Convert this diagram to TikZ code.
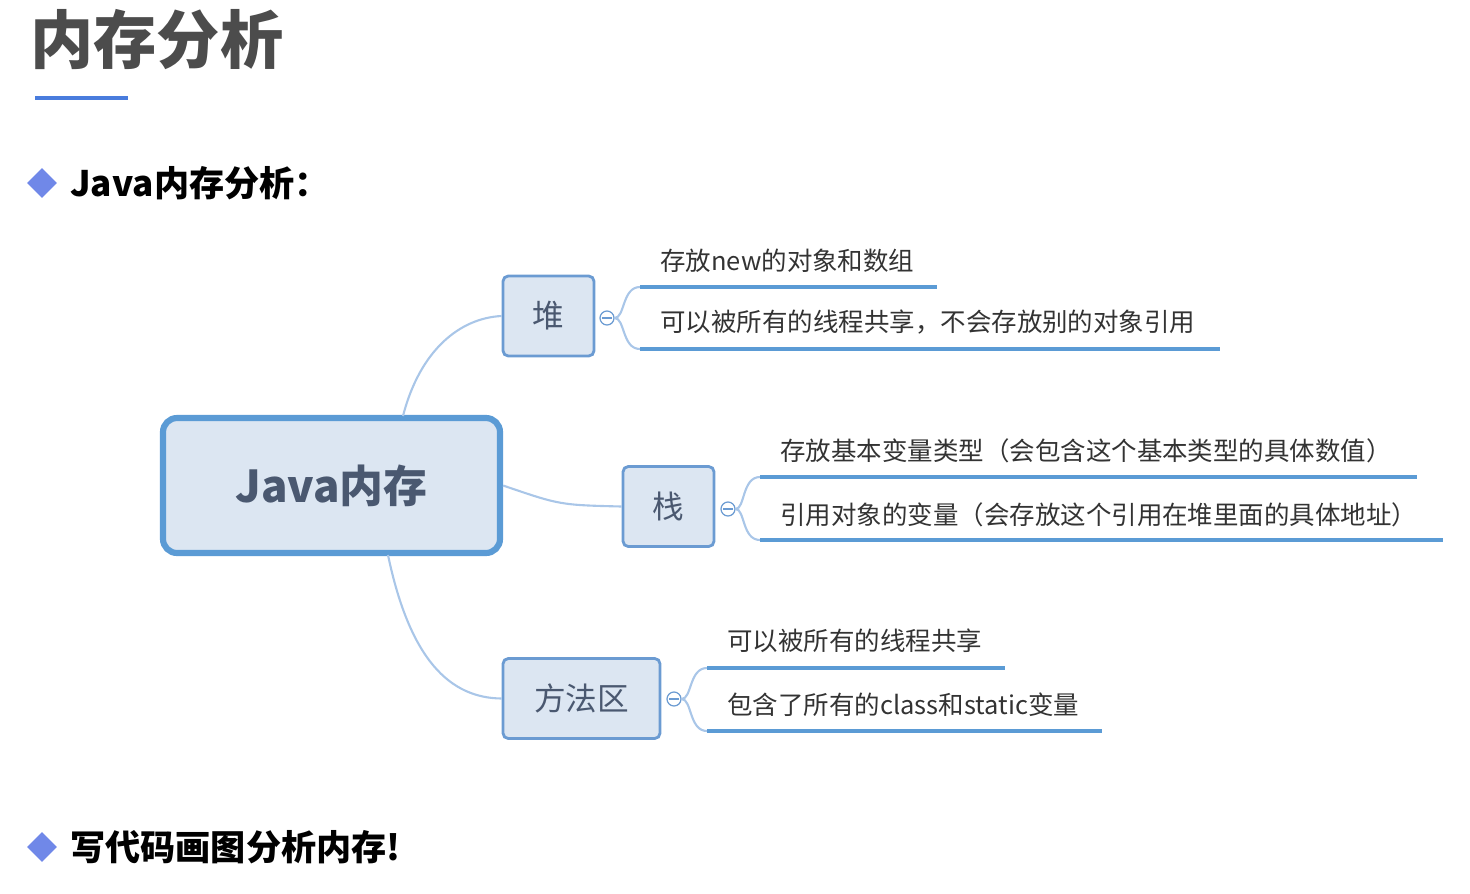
\documentclass[tikz,border=0pt]{standalone}
\usepackage{fontspec}
\setmainfont{Noto Sans CJK SC}
\usetikzlibrary{shapes.geometric}
\definecolor{nb}{HTML}{DCE6F2}
\definecolor{bd}{HTML}{6B9BD2}
\definecolor{cn}{HTML}{A9C6E8}
\definecolor{ul}{HTML}{5B9BD5}
\definecolor{dm}{HTML}{7088E8}
\definecolor{ct}{HTML}{4A5870}
\tikzset{
 sub/.style={draw=bd,line width=1.6pt,fill=nb,rounded corners=3pt,minimum height=80*0.02cm,inner sep=0pt,font=\fontsize{18}{18}\selectfont,text=ct},
 conn/.style={draw=cn,line width=1.2pt},
 leaf/.style={anchor=west,font=\fontsize{14.5}{14.5}\selectfont,text=black!80,inner sep=0pt},
 uline/.style={draw=ul,line width=2pt},
 mc/.style={circle,draw=bd,line width=0.7pt,minimum size=14*0.02cm,inner sep=0pt,fill=white},
 dia/.style={diamond,fill=dm,minimum size=30*0.02cm,inner sep=0pt},
 head/.style={anchor=west,font=\bfseries\fontsize{20}{20}\selectfont,inner sep=0pt}
}
\begin{document}
\begin{tikzpicture}[x=0.02cm,y=-0.02cm]
\useasboundingbox (0,0) rectangle (1470,893);
\node[anchor=west,font=\bfseries\fontsize{36}{36}\selectfont,text=black!70,inner sep=0pt] (title) at (30,40) {内存分析};
\draw[draw=ul!80!blue,line width=2pt] (35,98) -- (128,98);
\node[dia] (d1) at (42,183) {};
\node[head] (h1) at (70,183) {Java内存分析：};
\node[dia] (d2) at (42,847) {};
\node[head] (h2) at (70,847) {写代码画图分析内存!};
\node[draw=ul,line width=3.5pt,fill=nb,rounded corners=8pt,minimum width=337*0.02cm,minimum height=135*0.02cm,font=\bfseries\fontsize{25}{25}\selectfont,text=ct] (c) at (331.5,485.5) {Java内存};
\node[sub,minimum width=91*0.02cm] (h) at (548.5,316) {堆};
\node[sub,minimum width=91*0.02cm] (s) at (668.5,506.5) {栈};
\node[sub,minimum width=157*0.02cm] (m) at (581.5,698.5) {方法区};
\coordinate (ct) at (403,416);
\coordinate (cb) at (388,555);
\draw[conn] (ct) .. controls (420,350) and (460,318) .. (h.west);
\draw[conn] (c.east) .. controls (560,505) .. (s.west);
\draw[conn] (cb) .. controls (410,660) and (450,698) .. (m.west);
% heap
\node[mc] (hc) at (607,318) {}; \draw[bd,line width=0.7pt] (602,318)--(612,318);
\coordinate (ha) at (640,287); \coordinate (hb) at (640,349);
\draw[conn] (hc.east) .. controls (625,318) and (622,287) .. (ha);
\draw[conn] (hc.east) .. controls (625,318) and (622,349) .. (hb);
\coordinate (hae) at (937,287); \coordinate (hbe) at (1220,349);
\draw[uline] (ha)--(hae); \draw[uline] (hb)--(hbe);
\node[leaf] (t1) at (660,261) {存放new的对象和数组};
\node[leaf] (t2) at (660,322) {可以被所有的线程共享，不会存放别的对象引用};
% stack
\node[mc] (sc) at (728,509) {}; \draw[bd,line width=0.7pt] (723,509)--(733,509);
\coordinate (sa) at (760,477); \coordinate (sb) at (760,540);
\draw[conn] (sc.east) .. controls (745,509) and (742,477) .. (sa);
\draw[conn] (sc.east) .. controls (745,509) and (742,540) .. (sb);
\coordinate (sae) at (1417,477); \coordinate (sbe) at (1443,540);
\draw[uline] (sa)--(sae); \draw[uline] (sb)--(sbe);
\node[leaf] (t3) at (780,451) {存放基本变量类型（会包含这个基本类型的具体数值）};
\node[leaf] (t4) at (780,515) {引用对象的变量（会存放这个引用在堆里面的具体地址）};
% method
\node[mc] (mcc) at (674,699) {}; \draw[bd,line width=0.7pt] (669,699)--(679,699);
\coordinate (ma) at (707,668); \coordinate (mb) at (707,731);
\draw[conn] (mcc.east) .. controls (692,699) and (689,668) .. (ma);
\draw[conn] (mcc.east) .. controls (692,699) and (689,731) .. (mb);
\coordinate (mae) at (1005,668); \coordinate (mbe) at (1102,731);
\draw[uline] (ma)--(mae); \draw[uline] (mb)--(mbe);
\node[leaf] (t5) at (727,641) {可以被所有的线程共享};
\node[leaf] (t6) at (727,705) {包含了所有的class和static变量};
\end{tikzpicture}
\end{document}
